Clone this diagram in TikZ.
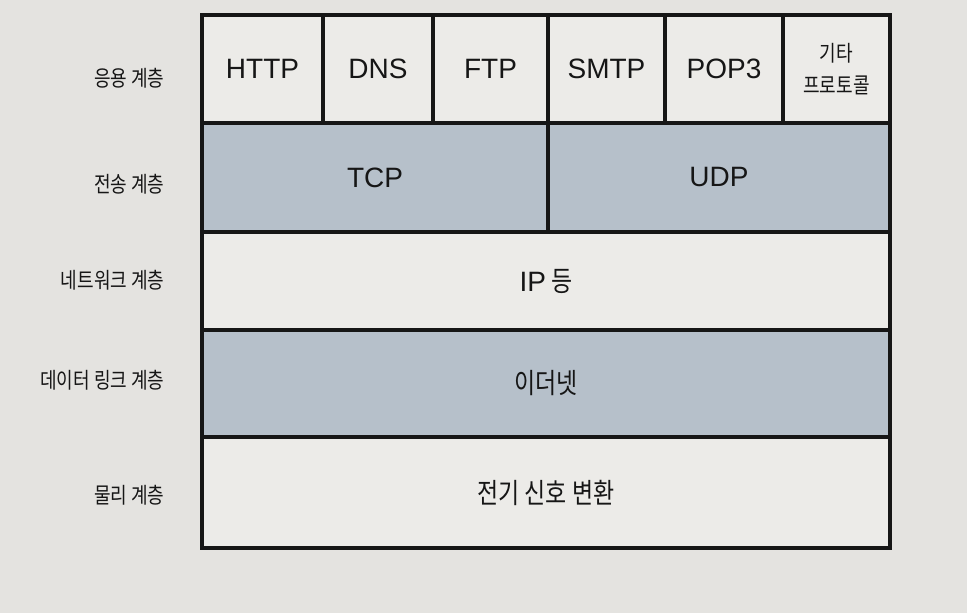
\documentclass[tikz,border=0pt]{standalone}
\usepackage{fontspec}
\setmainfont{Noto Sans CJK KR}
\newfontfamily\krfont[FakeStretch=0.82]{Noto Sans CJK KR}
\newfontfamily\latinfont{Liberation Sans}
\definecolor{pagebg}{HTML}{E4E3E0}
\definecolor{cellbg}{HTML}{ECEBE8}
\definecolor{layerbg}{HTML}{B6C0CA}
\definecolor{ink}{HTML}{161616}
\begin{document}
\begin{tikzpicture}[x=1pt, y=-1pt,
    cell/.style={draw=ink, line width=3.6pt, rectangle, inner sep=0pt, outer sep=0pt, fill=cellbg, text=ink, align=center},
    proto/.style={cell, font=\latinfont\fontsize{28}{30}\selectfont},
    hangul/.style={cell, font=\krfont\fontsize{28}{30}\selectfont},
    layer/.style={anchor=east, text=ink, font=\krfont\fontsize{22}{24}\selectfont}]

        \fill[pagebg] (0,0) rectangle (967,613);

        % Define nodes in the first row (application layer)
        \node[proto, minimum width=121, minimum height=108] (http) at (262.5,69) {HTTP};
        \node[proto, minimum width=110, minimum height=108] (dns) at (378,69) {DNS};
        \node[proto, minimum width=115, minimum height=108] (ftp) at (490.5,69) {FTP};
        \node[proto, minimum width=117, minimum height=108] (smtp) at (606.5,69) {SMTP};
        \node[proto, minimum width=118, minimum height=108] (pop) at (724,69) {POP3};
        \node[cell, minimum width=107, minimum height=108, font=\krfont\fontsize{22}{32}\selectfont] (etc) at (836.5,69) {기타\\프로토콜};

        % Define nodes in the second row (transport layer)
        \node[proto, fill=layerbg, minimum width=346, minimum height=109] (tcp) at (375,177.5) {TCP};
        \node[proto, fill=layerbg, minimum width=342, minimum height=109] (udp) at (719,177.5) {UDP};

        % Define nodes in the lower rows
        \node[hangul, minimum width=688, minimum height=98] (ip) at (546,281) {{\latinfont IP} 등};
        \node[hangul, fill=layerbg, minimum width=688, minimum height=107] (eth) at (546,383.5) {이더넷};
        \node[hangul, minimum width=688, minimum height=111] (phy) at (546,492.5) {전기 신호 변환};

        % Layer names on the left
        \node[layer] (lapp) at (168,78) {응용 계층};
        \node[layer] (ltrans) at (168,184) {전송 계층};
        \node[layer] (lnet) at (168,280) {네트워크 계층};
        \node[layer] (llink) at (168,380) {데이터 링크 계층};
        \node[layer] (lphy) at (168,495) {물리 계층};

    \end{tikzpicture}
\end{document}
